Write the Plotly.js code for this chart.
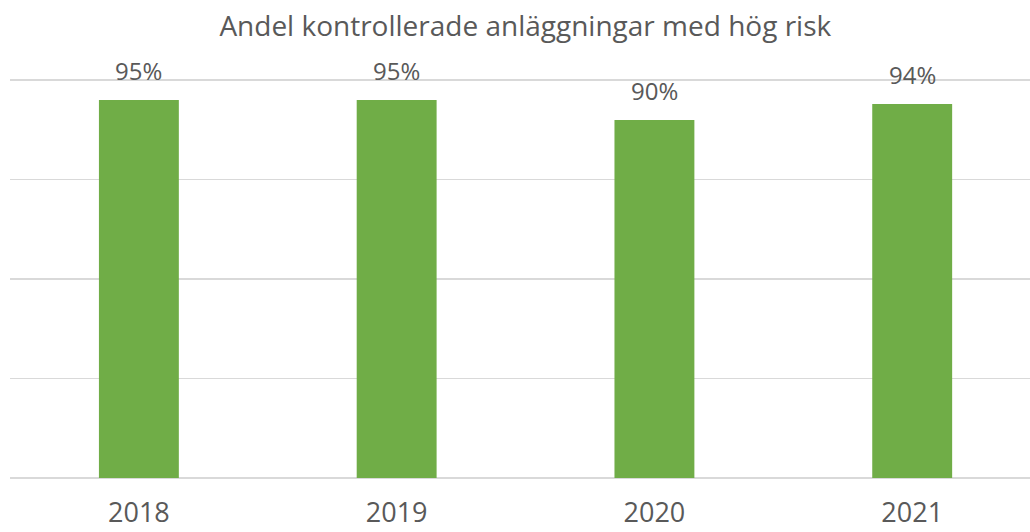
<!DOCTYPE html>
<html>
<head>
<meta charset="utf-8">
<script src="https://cdn.plot.ly/plotly-3.0.1.min.js"></script>
<style>html,body{margin:0;padding:0;background:#fff;}#chart{width:1030px;height:532px;}</style>
</head>
<body>
<div id="chart"></div>
<script>
const years = ['2018', '2019', '2020', '2021'];
const shares = [0.95, 0.95, 0.90, 0.94];
const labels = ['95%', '95%', '90%', '94%'];
const titleText = 'Andel kontrollerade anläggningar med hög risk';

const FONT = '"Open Sans", "Noto Sans", sans-serif';
const GRAY = '#595959';

const annotations = years.map((y, i) => ({
  x: i, y: shares[i], xref: 'x', yref: 'y',
  text: labels[i], showarrow: false,
  yanchor: 'bottom', yshift: 11,
  font: {family: FONT, size: 24, color: GRAY}
}));

Plotly.newPlot('chart', [{
  type: 'bar', x: years, y: shares,
  width: 0.31,
  marker: {color: '#70AD47'},
  hoverinfo: 'skip'
}], {
  width: 1030, height: 532,
  margin: {l: 10, r: 0, t: 79, b: 54, pad: 0},
  paper_bgcolor: '#fff', plot_bgcolor: '#fff',
  title: {text: titleText, x: 0.51, xanchor: 'center', y: 0.95, yanchor: 'middle',
          font: {family: FONT, size: 28, color: GRAY}},
  xaxis: {type: 'category', range: [-0.5, 3.457], showgrid: false, zeroline: false,
          showline: false, ticks: '', ticklabelstandoff: 16,
          tickfont: {family: FONT, size: 27, color: GRAY}, fixedrange: true},
  yaxis: {range: [0, 1.003], tickvals: [0, 0.25, 0.5, 0.75, 1], showgrid: true, gridcolor: '#d9d9d9', gridwidth: 1.5,
          zeroline: true, zerolinecolor: '#d9d9d9', zerolinewidth: 1.5,
          showticklabels: false, ticks: '', fixedrange: true},
  annotations: annotations,
  showlegend: false
}, {displayModeBar: false, staticPlot: true});
</script>
</body>
</html>
